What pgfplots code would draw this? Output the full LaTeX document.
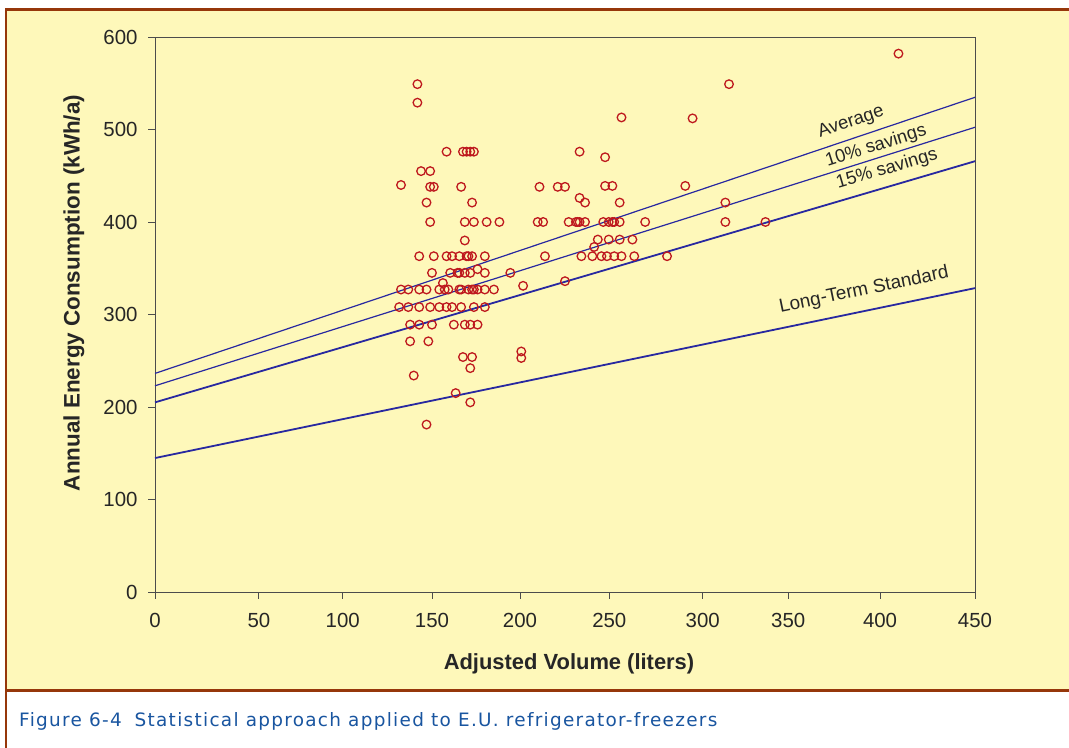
\documentclass[border=0pt]{standalone}
\usepackage{fontspec}
\setmainfont{Liberation Sans}
\newfontfamily\capfont[LetterSpace=7]{DejaVu Sans}
\usepackage{pgfplots}
\pgfplotsset{compat=1.18}
\definecolor{cream}{RGB}{254,248,186}
\definecolor{framebrown}{RGB}{150,55,10}
\definecolor{linblue}{RGB}{40,40,160}
\definecolor{ptred}{RGB}{190,25,30}
\definecolor{capblue}{RGB}{25,85,160}
\begin{document}
\begin{tikzpicture}[x=1bp,y=1bp]
\useasboundingbox (0,0) rectangle (1069,748);
\fill[white] (0,0) rectangle (1069,748);
\fill[cream] (6,58) rectangle (1069,738);
\draw[framebrown, line width=2.5bp] (6.2,0) -- (6.2,738.5) -- (1069,738.5);
\draw[framebrown, line width=2.5bp] (6.2,57.5) -- (1069,57.5);
\begin{axis}[
  at={(155bp,156bp)}, anchor=south west,
  scale only axis, width=820bp, height=555bp,
  xmin=0, xmax=450, ymin=0, ymax=600,
  xtick={0,57,103,152,200.3,249.3,300.6,347.5,397.9,450},
  xticklabels={0,50,100,150,200,250,300,350,400,450},
  ytick={0,100,200,300,400,500,600},
  tick align=outside, major tick length=7bp,
  xtick pos=left, ytick pos=left,
  axis line style={black!70, line width=0.9bp},
  tick style={black!70, line width=0.9bp},
  ticklabel style={font=\fontsize{20.5}{23}\selectfont, text=black!85},
  xticklabel style={yshift=-11bp},
  yticklabel style={xshift=-7bp},
  /pgf/number format/assume math mode=true,
  axis background/.style={fill=cream},
  clip=false,
]
\addplot[only marks, mark=o, mark size=4.3bp, ptred, mark options={line width=1.3bp}] coordinates {
(408,582)(315,549)(144,549)(144,529)(256,513)(295,512)
(160,476)(169,476)(171,476)(173,476)(175,476)(233,476)
(247,470)(146,455)(151,455)
(135,440)(151,438)(153,438)(168,438)(211,438)(221,438)(225,438)(247,439)(251,439)(291,439)
(149,421)(174,421)(236,421)(255,421)(313,421)(233,426)
(151,400)(170,400)(175,400)(182,400)(189,400)(210,400)(213,400)(227,400)(231,400)(232,400)(233,400)(236,400)(246,400)(249,400)(251,400)(252,400)(255,400)(269,400)(313,400)(335,400)
(243,381)(249,381)(255,381)(262,381)(170,380)(241,373)
(145,363)(153,363)(160,363)(163,363)(167,363)(171,363)(172,363)(174,363)(181,363)(214,363)(234,363)(240,363)(245,363)(248,363)(252,363)(256,363)(263,363)(281,363)
(177,349)
(152,345)(162,345)(166,345)(167,345)(170,345)(173,345)(181,345)(195,345)
(225,336)(158,334)(202,331)
(135,327)(139,327)(145,327)(149,327)(156,327)(159,327)(161,327)(167,327)(168,327)(172,327)(174,327)(175,327)(177,327)(181,327)(186,327)
(134,308)(139,308)(145,308)(151,308)(156,308)(160,308)(163,308)(168,308)(175,308)(181,308)
(140,289)(145,289)(152,289)(164,289)(170,289)(173,289)(177,289)
(140,271)(150,271)(201,260)(201,253)(169,254)(174,254)
(173,242)(142,234)(165,215)(173,205)(149,181)
};
\addplot[linblue, line width=1.2bp] coordinates {(0,236.3)(450,534.8)};
\addplot[linblue, line width=1.2bp] coordinates {(0,222.9)(450,502.4)};
\addplot[linblue, line width=1.8bp] coordinates {(0,205.0)(450,465.7)};
\addplot[linblue, line width=1.8bp] coordinates {(0,144.8)(450,328.5)};
\node[inner sep=0pt, rotate=18.6, font=\fontsize{18.5}{20}\selectfont, text=black!85] at (axis cs:382,507.8) {Average};
\node[inner sep=0pt, rotate=17.5, font=\fontsize{18.5}{20}\selectfont, text=black!85] at (axis cs:395.7,481.9) {10\% savings};
\node[inner sep=0pt, rotate=16.4, font=\fontsize{18.5}{20}\selectfont, text=black!85] at (axis cs:401.7,457) {15\% savings};
\node[inner sep=0pt, rotate=11.7, font=\fontsize{19}{20}\selectfont, text=black!85] at (axis cs:389.1,326.3) {Long-Term Standard};
\end{axis}
\node[font=\bfseries\fontsize{22}{24}\selectfont, text=black!85] at (569,84) {Adjusted Volume (liters)};
\node[rotate=90, font=\bfseries\fontsize{22.5}{24}\selectfont, text=black!85] at (74,455) {Annual Energy Consumption (kWh/a)};
\node[anchor=base west, inner sep=0pt, text=capblue, font=\capfont\fontsize{18.5}{20}\selectfont] at (19,21) {Figure 6-4\hspace{0.7em}Statistical approach applied to E.U. refrigerator-freezers};
\end{tikzpicture}
\end{document}
